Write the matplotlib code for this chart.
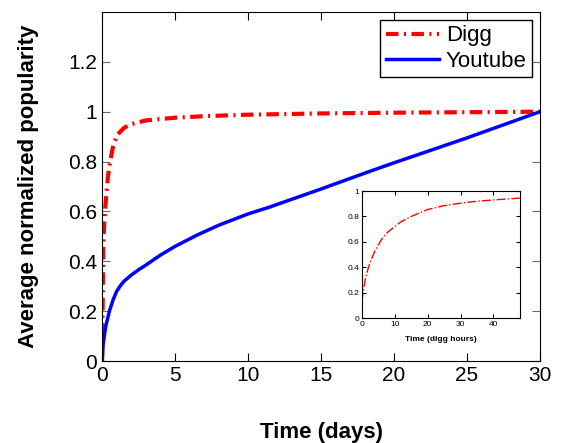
import numpy as np
import matplotlib.pyplot as plt

plt.rcParams['font.family'] = ['Liberation Sans', 'DejaVu Sans']

# main plot: average normalized popularity vs time (days)
digg_days = [0, 0.02, 0.05, 0.08, 0.15, 0.25, 0.4, 0.55, 0.75, 1, 1.5, 2, 3, 5, 7, 10, 15, 20, 25, 30]
digg_pop = [0, 0.1, 0.3, 0.45, 0.56, 0.64, 0.74, 0.8, 0.86, 0.905, 0.935, 0.95, 0.965, 0.976, 0.982, 0.988, 0.993, 0.996, 0.998, 1.0]

yt_days = [0, 0.05, 0.1, 0.25, 0.5, 0.75, 1, 1.25, 1.5, 2, 2.5, 3, 4, 5, 6.5, 8, 10, 11.4, 15, 18.3, 20, 25, 30]
yt_pop = [0, 0.05, 0.08, 0.14, 0.2, 0.245, 0.28, 0.302, 0.32, 0.345, 0.366, 0.385, 0.425, 0.46, 0.505, 0.545, 0.59, 0.616, 0.69, 0.76, 0.795, 0.895, 1.0]

# inset: digg in digg hours
inset_hours = [0, 0.5, 1, 2, 3, 4, 6, 8, 10, 12, 15, 20, 25, 30, 35, 40, 48]
inset_pop = [0.13, 0.22, 0.3, 0.4, 0.47, 0.53, 0.62, 0.68, 0.72, 0.76, 0.8, 0.855, 0.885, 0.905, 0.92, 0.93, 0.945]

fig = plt.figure(figsize=(5.61, 4.43), dpi=100)
ax = fig.add_axes([0.182, 0.185, 0.7806, 0.788])

ax.plot(digg_days, digg_pop, color='red', linestyle='-.', linewidth=3, label='Digg',
        dashes=(3, 1.3, 0.5, 1.3))
ax.plot(yt_days, yt_pop, color='blue', linestyle='-', linewidth=2.5, label='Youtube')

ax.set_xlim(0, 30)
ax.set_ylim(0, 1.4)
ax.set_xticks([0, 5, 10, 15, 20, 25, 30])
ax.set_yticks([0, 0.2, 0.4, 0.6, 0.8, 1.0, 1.2])
ax.set_yticklabels(['0', '0.2', '0.4', '0.6', '0.8', '1', '1.2'])
ax.tick_params(direction='in', top=True, right=True, length=6, labelsize=15)
ax.tick_params(axis='y', colors='dimgray', labelcolor='black')
ax.set_xlabel('Time (days)', fontsize=16, fontweight='bold', labelpad=27)
ax.set_ylabel('Average normalized popularity', fontsize=16, fontweight='bold', labelpad=21)

leg = ax.legend(loc='upper right', fontsize=16, fancybox=False, framealpha=1,
                edgecolor='black', borderpad=0.25, labelspacing=0.2,
                handlelength=2.4, handletextpad=0.3, borderaxespad=0.35)
leg.get_frame().set_linewidth(1)

ins = fig.add_axes([0.645, 0.282, 0.2816, 0.2867])
ins.plot(inset_hours, inset_pop, color='red', linestyle='-.', linewidth=1)
ins.set_xlim(0, 48)
ins.set_ylim(0, 1)
ins.set_xticks([0, 10, 20, 30, 40])
ins.set_yticks([0, 0.2, 0.4, 0.6, 0.8, 1])
ins.set_yticklabels(['0', '0.2', '0.4', '0.6', '0.8', '1'])
ins.tick_params(direction='in', top=True, right=True, length=3, labelsize=6, pad=2)
ins.set_xlabel('Time (digg hours)', fontsize=6, fontweight='bold', labelpad=6)

fig.savefig('out.png', dpi=100)
